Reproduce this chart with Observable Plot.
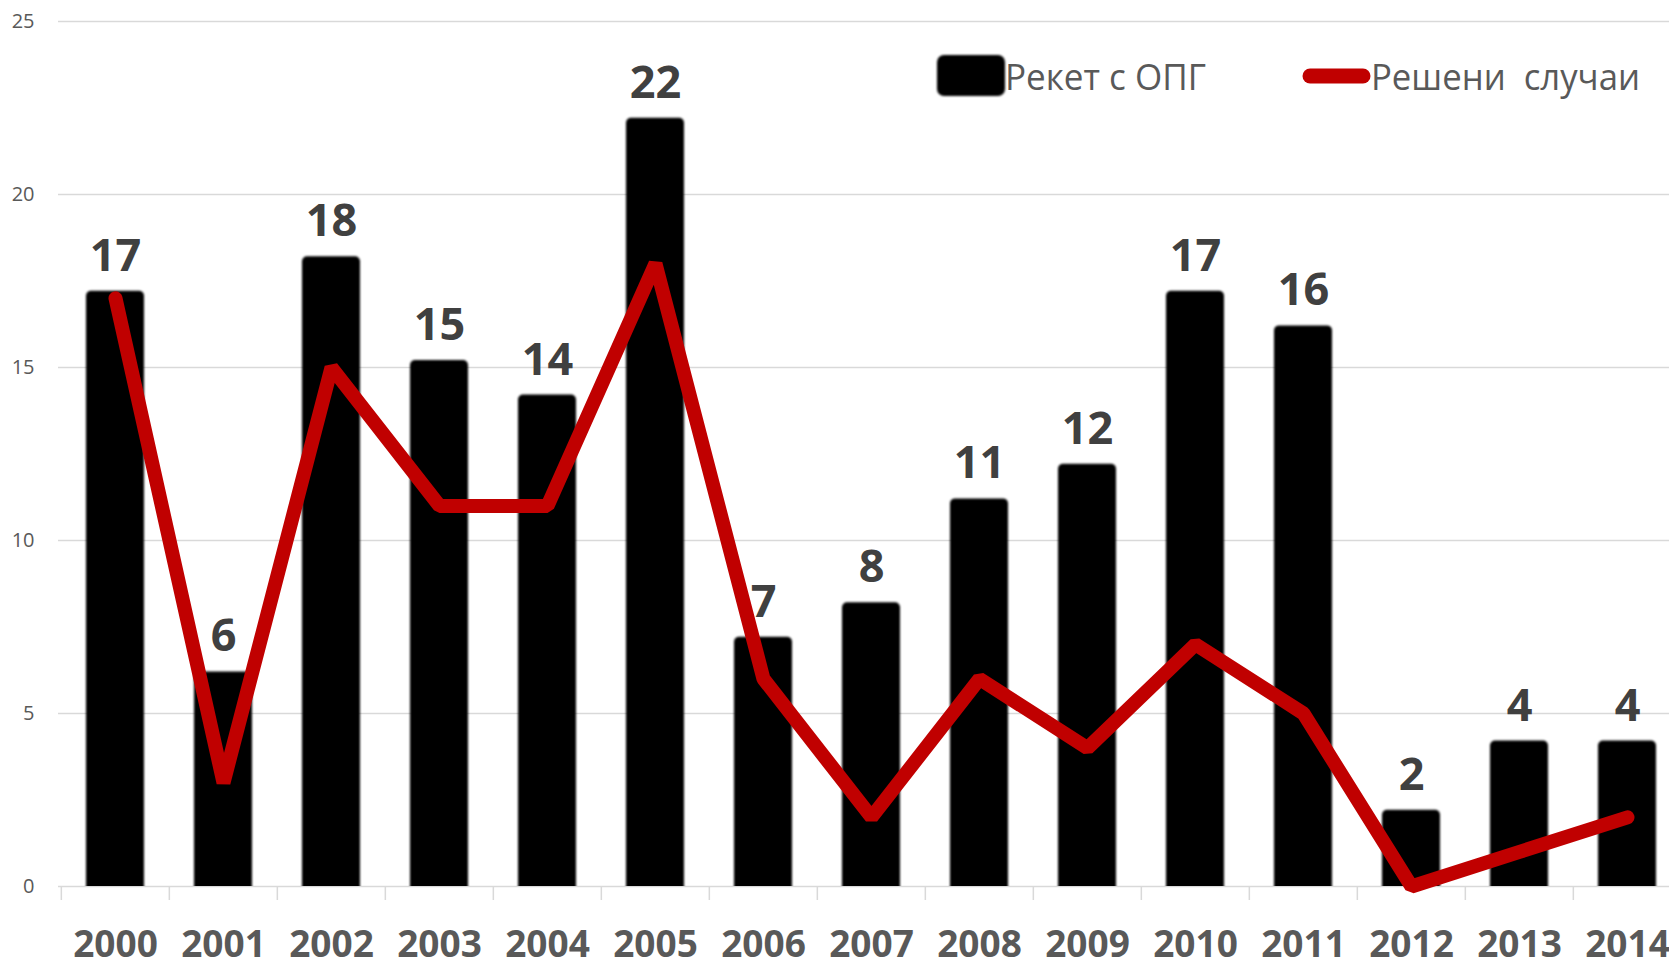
<!DOCTYPE html>
<html>
<head>
<meta charset="utf-8">
<script src="https://cdn.jsdelivr.net/npm/d3@7"></script>
<script src="https://cdn.jsdelivr.net/npm/@observablehq/plot@0.6"></script>
<style>
  html, body { margin: 0; padding: 0; background: #fff; overflow: hidden; }
  #wrap { position: relative; width: 1669px; height: 960px; }
  #legend { position: absolute; left: 0; top: 0; pointer-events: none; }
  #legend text { white-space: pre; }
</style>
</head>
<body>
<div id="wrap"></div>
<script>
const years = ["2000","2001","2002","2003","2004","2005","2006","2007","2008","2009","2010","2011","2012","2013","2014"];
const racket = [17, 6, 18, 15, 14, 22, 7, 8, 11, 12, 17, 16, 2, 4, 4];
const solved = [17, 3, 15, 11, 11, 18, 6, 2, 6, 4, 7, 5, 0, 1, 2];
const yTicks = [0, 5, 10, 15, 20, 25];
const seriesNames = ["Рекет с ОПГ", "Решени  случаи"];

const data = years.map((year, i) => ({year, racket: racket[i], solved: solved[i]}));

const step = (1683 - 58) / years.length;

const chart = Plot.plot({
  width: 1669,
  height: 960,
  marginTop: 21,
  marginBottom: 74,
  marginLeft: 58,
  marginRight: 0,
  style: {fontFamily: "'Open Sans', sans-serif", background: "#fff"},
  x: {domain: years, range: [58, 1683], padding: 0, label: null},
  y: {domain: [0, 25], range: [886, 21], label: null},
  marks: [
    Plot.gridY(yTicks, {stroke: "#d9d9d9", strokeOpacity: 1, strokeWidth: 1.5}),
    Plot.axisY(yTicks, {tickSize: 0, tickPadding: 24, fontSize: 20, color: "#595959", label: null}),
    Plot.ruleX(years, {x: d => d, y1: 0, y2: -0.405, dx: -step / 2, stroke: "#d9d9d9", strokeWidth: 1.5}),
    Plot.axisX({tickSize: 0, tickPadding: 44, fontSize: 37, fontWeight: "bold", color: "#595959", label: null}),
    Plot.barY(data, {x: "year", y: "racket", fill: "#050505", insetLeft: 25, insetRight: 25, insetTop: -7, insetBottom: -8, rx: 5, clip: true}),
    Plot.line(data, {x: "year", y: "solved", stroke: "#C00000", strokeWidth: 14, strokeLinejoin: "miter", strokeLinecap: "round"}),
    Plot.text(data, {x: "year", y: "racket", text: d => String(d.racket), dy: -42, fontSize: 45, fontWeight: "bold", fill: "#404040"})
  ]
});

document.getElementById("wrap").appendChild(chart);

// soften bar edges slightly
const svg = d3.select(chart);
const defs = svg.insert("defs", ":first-child");
defs.append("filter").attr("id", "soft").attr("x", "-5%").attr("y", "-5%").attr("width", "110%").attr("height", "110%")
  .append("feGaussianBlur").attr("stdDeviation", 0.9);
svg.selectAll("g[aria-label='bar'] rect").attr("filter", "url(#soft)");

// legend overlay
const lg = d3.select("#wrap").append("svg").attr("id", "legend")
  .attr("width", 1669).attr("height", 130);
lg.append("rect").attr("x", 937).attr("y", 55).attr("width", 68).attr("height", 41).attr("rx", 7)
  .attr("fill", "#050505").attr("filter", "url(#soft)");
lg.append("line").attr("x1", 1310).attr("x2", 1363).attr("y1", 76).attr("y2", 76)
  .attr("stroke", "#C00000").attr("stroke-width", 15).attr("stroke-linecap", "round");
lg.append("text").attr("x", 1005).attr("y", 90).attr("font-family", "'Open Sans', sans-serif").attr("font-size", 37)
  .attr("fill", "#595959").attr("textLength", 201).attr("lengthAdjust", "spacingAndGlyphs").text(seriesNames[0]);
lg.append("text").attr("x", 1371).attr("y", 90).attr("font-family", "'Open Sans', sans-serif").attr("font-size", 37)
  .attr("fill", "#595959").attr("textLength", 269).attr("lengthAdjust", "spacingAndGlyphs").text(seriesNames[1]);
</script>
</body>
</html>
